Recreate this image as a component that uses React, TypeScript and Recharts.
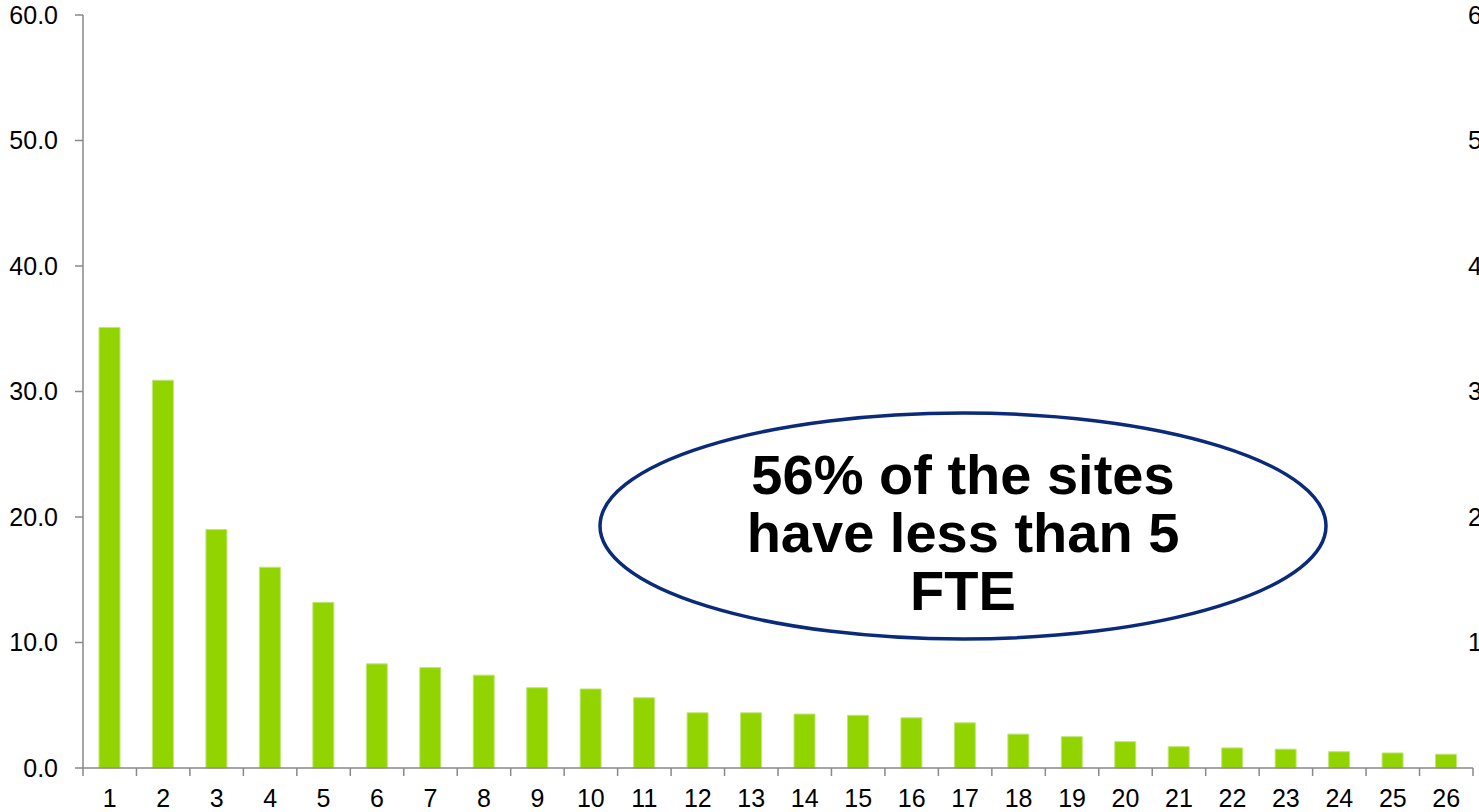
import { BarChart, Bar, XAxis, YAxis } from 'recharts';

// Sites ranked by FTE
const categories = ['1', '2', '3', '4', '5', '6', '7', '8', '9', '10', '11', '12', '13', '14', '15', '16', '17', '18', '19', '20', '21', '22', '23', '24', '25', '26'];
const fteValues = [35.1, 30.9, 19.0, 16.0, 13.2, 8.3, 8.0, 7.4, 6.4, 6.3, 5.6, 4.4, 4.4, 4.3, 4.2, 4.0, 3.6, 2.7, 2.5, 2.1, 1.7, 1.6, 1.5, 1.3, 1.2, 1.1];
const leftTicks = [0, 10, 20, 30, 40, 50, 60];
const calloutLines = ['56% of the sites', 'have less than 5', 'FTE'];

const W = 1479;
const H = 812;
const MARGIN = { top: 15, right: 6, bottom: 0, left: 0 };
const Y_AXIS_W = 83;
const X_AXIS_H = 44;
const PLOT_W = W - MARGIN.left - MARGIN.right - Y_AXIS_W;
const STEP = PLOT_W / categories.length;
const AXIS_COLOR = '#898989';
const FONT = '"Liberation Sans", Arial, sans-serif';
const TICK_FONT = 25;

const data = categories.map((name, i) => ({ name, value: fteValues[i] }));

const XTick = (props: any) => {
  const { x, y, payload, index } = props;
  const isLast = index === categories.length - 1 || payload.value === categories[categories.length - 1];
  return (
    <g>
      <line x1={x - STEP / 2} y1={y} x2={x - STEP / 2} y2={y + 8} stroke={AXIS_COLOR} strokeWidth={1.5} />
      {isLast && <line x1={x + STEP / 2} y1={y} x2={x + STEP / 2} y2={y + 8} stroke={AXIS_COLOR} strokeWidth={1.5} />}
      <text x={x} y={y + 39} textAnchor="middle" fontSize={TICK_FONT} fill="#000" fontFamily={FONT}>
        {payload.value}
      </text>
    </g>
  );
};

// left labels, plus the right-hand labels that sit cut off at the chart edge
const YTick = (props: any) => {
  const { x, y, payload } = props;
  const label = Number(payload.value).toFixed(1);
  return (
    <g>
      <text x={x - 2} y={y} dy="0.355em" textAnchor="end" fontSize={TICK_FONT} fill="#000" fontFamily={FONT}>
        {label}
      </text>
      {payload.value > 0 && (
        <text x={W - 11} y={y} dy="0.355em" textAnchor="start" fontSize={TICK_FONT} fill="#000" fontFamily={FONT}>
          {label}
        </text>
      )}
    </g>
  );
};

export default function App() {
  return (
    <div style={{ position: 'absolute', left: 0, top: 0, width: W, height: H, background: '#fff' }}>
      <BarChart width={W} height={H} data={data} margin={MARGIN} barSize={21}>
        <XAxis
          dataKey="name"
          axisLine={{ stroke: AXIS_COLOR, strokeWidth: 1.5 }}
          tickLine={false}
          tickSize={0}
          tickMargin={0}
          height={X_AXIS_H}
          interval={0}
          tick={XTick}
        />
        <YAxis
          domain={[0, 60]}
          ticks={leftTicks}
          width={Y_AXIS_W}
          tickSize={8}
          tickMargin={15}
          axisLine={{ stroke: AXIS_COLOR, strokeWidth: 1.5 }}
          tickLine={{ stroke: AXIS_COLOR, strokeWidth: 1.5 }}
          tick={YTick}
        />
        <Bar dataKey="value" fill="#92d400" stroke="#c2e67a" strokeWidth={1} isAnimationActive={false} />
        <ellipse cx={963} cy={526} rx={363} ry={113} fill="#fff" stroke="#0a2a7a" strokeWidth={3.5} />
        <text textAnchor="middle" fontSize={56} fontWeight="bold" fontFamily={FONT} fill="#000">
          {calloutLines.map((line, i) => (
            <tspan key={line} x={963} y={494 + i * 58}>
              {line}
            </tspan>
          ))}
        </text>
      </BarChart>
    </div>
  );
}
